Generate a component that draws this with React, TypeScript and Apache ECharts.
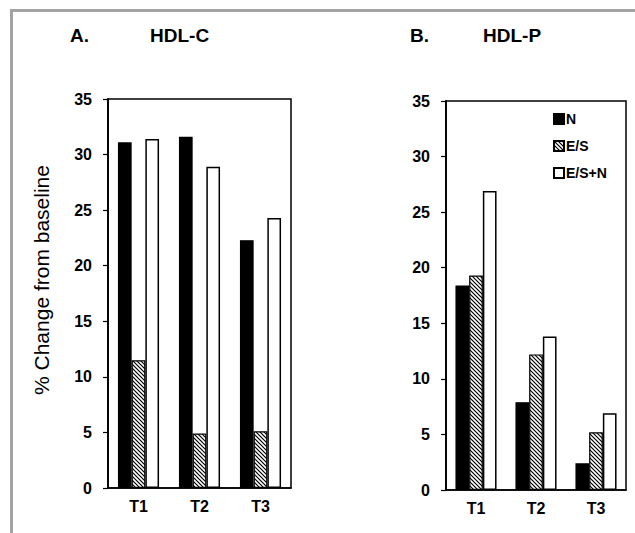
import React, { useEffect, useRef } from 'react';
import * as echarts from 'echarts';

const categories = ['T1', 'T2', 'T3'];
const seriesNames = ['N', 'E/S', 'E/S+N'];
const hdlcN = [31.1, 31.6, 22.3];
const hdlcES = [11.5, 4.9, 5.1];
const hdlcESN = [31.4, 28.9, 24.3];
const hdlpN = [18.4, 7.9, 2.4];
const hdlpES = [19.3, 12.2, 5.2];
const hdlpESN = [26.9, 13.8, 6.9];
const yMin = 0;
const yMax = 35;
const yStep = 5;
const panelLetters = ['A.', 'B.'];
const panelTitles = ['HDL-C', 'HDL-P'];
const yAxisName = '% Change from baseline';

const FONT = '"Liberation Sans", Arial, sans-serif';

function makeHatch(): HTMLCanvasElement {
  const c = document.createElement('canvas');
  c.width = 4;
  c.height = 4;
  const ctx = c.getContext('2d')!;
  ctx.fillStyle = '#fff';
  ctx.fillRect(0, 0, 4, 4);
  ctx.strokeStyle = '#000';
  ctx.lineWidth = 1.2;
  ctx.beginPath();
  ctx.moveTo(-1, -1);
  ctx.lineTo(5, 5);
  ctx.moveTo(-1, 3);
  ctx.lineTo(1, 5);
  ctx.moveTo(3, -1);
  ctx.lineTo(5, 1);
  ctx.stroke();
  return c;
}

export default function App() {
  const ref = useRef<HTMLDivElement>(null);
  useEffect(() => {
    if (!ref.current) return;
    const chart = echarts.init(ref.current, null, { renderer: 'svg' });
    const hatch = { image: makeHatch(), repeat: 'repeat' } as any;
    const styles = [
      { color: '#000', borderColor: '#000', borderWidth: 1.2 },
      { color: hatch, borderColor: '#000', borderWidth: 1.2 },
      { color: '#fff', borderColor: '#000', borderWidth: 1.5 },
    ];
    const dataA = [hdlcN, hdlcES, hdlcESN];
    const dataB = [hdlpN, hdlpES, hdlpESN];
    const series: any[] = [];
    [dataA, dataB].forEach((set, gi) => {
      set.forEach((vals, si) => {
        series.push({
          type: 'bar',
          name: seriesNames[si],
          xAxisIndex: gi,
          yAxisIndex: gi,
          data: vals,
          barWidth: 13.7,
          barGap: '0%',
          itemStyle: styles[si],
          emphasis: { disabled: true },
        });
      });
    });
    const grids = [
      { left: 108, top: 99, width: 183, height: 389 },
      { left: 446, top: 101, width: 180, height: 389 },
    ];
    const xAxisBase = (i: number) => ({
      type: 'category',
      gridIndex: i,
      data: categories,
      axisTick: { show: false },
      axisLine: { lineStyle: { color: '#000', width: 1.5 } },
      axisLabel: { color: '#000', fontFamily: FONT, fontWeight: 'bold', fontSize: 16, margin: 10 },
    });
    const yAxisBase = (i: number) => ({
      type: 'value',
      gridIndex: i,
      min: yMin,
      max: yMax,
      interval: yStep,
      axisLine: { show: true, lineStyle: { color: '#000', width: 1.8 } },
      axisTick: { show: true, length: 5, lineStyle: { color: '#000', width: 1.2 } },
      splitLine: { show: false },
      axisLabel: { color: '#000', fontFamily: FONT, fontWeight: 'bold', fontSize: 16, margin: 16 },
    });
    const option: any = {
      animation: false,
      backgroundColor: '#fff',
      grid: grids.map((g) => ({ ...g, show: true, borderColor: '#000', borderWidth: 1.5, backgroundColor: 'transparent' })),
      xAxis: [xAxisBase(0), xAxisBase(1)],
      yAxis: [yAxisBase(0), yAxisBase(1)],
      legend: {
        orient: 'vertical',
        left: 548,
        top: 107,
        icon: 'rect',
        itemWidth: 10,
        itemHeight: 10,
        itemGap: 13,
        data: seriesNames,
        selectedMode: false,
        textStyle: { color: '#000', fontFamily: FONT, fontWeight: 'bold', fontSize: 14, padding: [0, 0, 0, -3] },
      },
      graphic: [
        { type: 'rect', shape: { x: 10, y: 9, width: 630, height: 3 }, style: { fill: '#a3a3a3' } },
        { type: 'rect', shape: { x: 10, y: 9, width: 3, height: 530 }, style: { fill: '#a3a3a3' } },
        {
          type: 'text',
          x: 41,
          y: 280,
          rotation: Math.PI / 2,
          style: {
            text: yAxisName,
            fill: '#000',
            font: `21px ${FONT}`,
            align: 'center',
            verticalAlign: 'middle',
          },
        },
        ...[
          { t: panelLetters[0], x: 70 },
          { t: panelTitles[0], x: 150 },
          { t: panelLetters[1], x: 410 },
          { t: panelTitles[1], x: 483 },
        ].map((o) => ({
          type: 'text',
          x: o.x,
          y: 35,
          style: {
            text: o.t,
            fill: '#000',
            font: `bold 19px ${FONT}`,
            verticalAlign: 'middle',
          },
        })),
      ],
      series,
    };
    chart.setOption(option);
    return () => chart.dispose();
  }, []);
  return <div ref={ref} style={{ position: 'absolute', left: 0, top: 0, width: 635, height: 533 }} />;
}
